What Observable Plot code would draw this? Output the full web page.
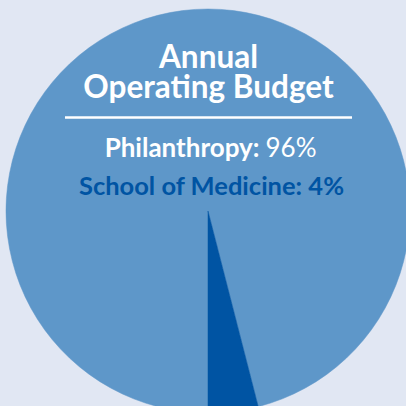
<!DOCTYPE html>
<html>
<head>
<meta charset="utf-8">
<script src="https://cdn.jsdelivr.net/npm/d3@7"></script>
<script src="https://cdn.jsdelivr.net/npm/@observablehq/plot@0.6"></script>
<style>
  html, body { margin: 0; padding: 0; background: #e1e7f3; }
  #chart { width: 406px; height: 406px; overflow: hidden; }
  svg { display: block; }
</style>
</head>
<body>
<div id="chart"></div>
<script>
const categories = ["Philanthropy", "School of Medicine"];
const shares = [96, 4];
const sliceColors = ["#5e97c9", "#0054a3"];
const titleLines = ["Annual", "Operating Budget"];

const slices = categories.map((c, i) => ({ category: c, share: shares[i], color: sliceColors[i] }));

const pie = d3.pie().value(d => d.share).sort(null)
  .startAngle(Math.PI).endAngle(3 * Math.PI);
const arcs = pie(slices);

const font = "Lato, 'Open Sans', sans-serif";

const chart = Plot.plot({
  width: 406,
  height: 406,
  margin: 0,
  style: { background: "#e1e7f3", fontFamily: font, overflow: "hidden" },
  x: { domain: [-1, 1], range: [6, 410], axis: null },
  y: { domain: [-1, 1], range: [413, 9], axis: null },
  marks: [
    Plot.dot(arcs, {
      x: () => 0,
      y: () => 0,
      render: (index, scales, values, dimensions, context) => {
        const cx = scales.x(0), cy = scales.y(0);
        const r = scales.x(1) - scales.x(0);
        const arc = d3.arc().innerRadius(0).outerRadius(r);
        const g = d3.create("svg:g").attr("transform", `translate(${cx},${cy})`);
        g.selectAll("path").data(Array.from(index, i => arcs[i])).join("path")
          .attr("d", arc)
          .attr("fill", d => d.data.color)
          .attr("stroke", d => d.data.color)
          .attr("stroke-width", 0.5);
        return g.node();
      }
    }),
    Plot.text([titleLines[0]], {
      frameAnchor: "top", lineAnchor: "bottom", dy: 67, dx: 5,
      text: d => d, fill: "white", fontSize: 31.5, fontWeight: "bold"
    }),
    Plot.text([titleLines[1]], {
      frameAnchor: "top", lineAnchor: "bottom", dy: 97, dx: 5,
      text: d => d, fill: "white", fontSize: 31.5, fontWeight: "bold"
    }),
    Plot.ruleY([0.465], { x1: -0.708, x2: 0.713, stroke: "white", strokeWidth: 2.5 }),
    Plot.text([slices[0]], {
      frameAnchor: "top", lineAnchor: "bottom", dy: 156, dx: 56, textAnchor: "end",
      text: d => `${d.category}:`, fill: "white", fontSize: 26, fontWeight: "bold"
    }),
    Plot.text([slices[0]], {
      frameAnchor: "top", lineAnchor: "bottom", dy: 156, dx: 62, textAnchor: "start",
      text: d => `${d.share}%`, fill: "white", fontSize: 26, fontWeight: "normal"
    }),
    Plot.text([slices[1]], {
      frameAnchor: "top", lineAnchor: "bottom", dy: 194, dx: 8,
      text: d => `${d.category}: ${d.share}%`, fill: "#0054a3", fontSize: 25.5, fontWeight: "bold"
    })
  ]
});

document.getElementById("chart").appendChild(chart);
</script>
</body>
</html>
